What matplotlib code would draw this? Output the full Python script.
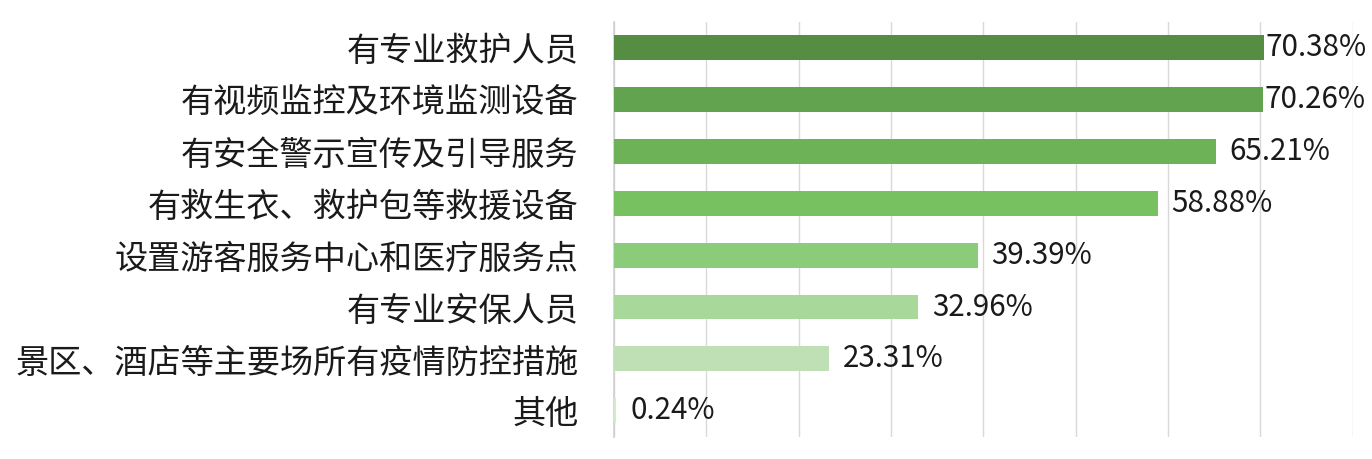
import matplotlib
matplotlib.use("Agg")
import matplotlib.pyplot as plt

categories = ["有专业救护人员", "有视频监控及环境监测设备", "有安全警示宣传及引导服务",
              "有救生衣、救护包等救援设备", "设置游客服务中心和医疗服务点", "有专业安保人员",
              "景区、酒店等主要场所有疫情防控措施", "其他"]
values = [70.38, 70.26, 65.21, 58.88, 39.39, 32.96, 23.31, 0.24]
colors = ["#558E43", "#62A350", "#6DB257", "#77C160", "#8BCC7A", "#A8D89A", "#BEE0B4", "#D2EBCB"]

plt.rcParams['font.family'] = ['Noto Sans CJK SC', 'DejaVu Sans']

fig = plt.figure(figsize=(13.72, 4.59), dpi=100)
ax = fig.add_axes([0.4475, 0.0486, 0.9858 - 0.4475, 0.9527 - 0.0486])

y = list(range(len(categories)))
ax.barh(y, values, height=0.48, color=colors, zorder=3)
ax.set_ylim(len(categories) - 0.5, -0.5)
ax.set_xlim(0, 80)
ax.set_xticks(range(0, 81, 10))
ax.set_xticklabels([])
ax.grid(axis='x', color='#D9D9D9', linewidth=1, zorder=0)
ax.set_yticks(y)
ax.set_yticklabels(categories, fontsize=23.9, color='#1a1a1a')
ax.tick_params(axis='both', length=0)
ax.tick_params(axis='y', pad=25.5)
for s in ['top', 'right', 'bottom']:
    ax.spines[s].set_visible(False)
ax.spines['left'].set_color('#CFCFCF')
ax.spines['left'].set_linewidth(1.2)

for yi, v in zip(y, values):
    off = 1.5 if v > 68 else 10
    ax.annotate(f"{v:.2f}%", xy=(v, yi), xytext=(off, 0), textcoords='offset points',
                ha='left', va='center', fontsize=21.3, color='#1a1a1a', annotation_clip=False)

fig.savefig("out.png", dpi=100)
